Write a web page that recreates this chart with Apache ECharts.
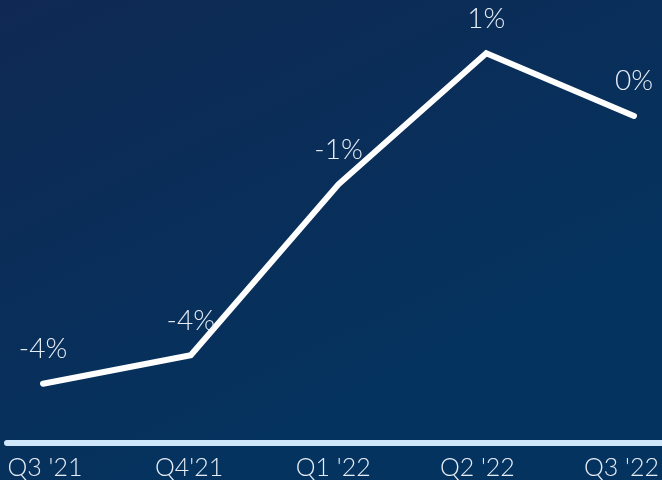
<!DOCTYPE html>
<html>
<head>
<meta charset="utf-8">
<script src="https://cdn.jsdelivr.net/npm/echarts@6/dist/echarts.min.js"></script>
<style>
  html, body { margin: 0; padding: 0; }
  #chart { width: 662px; height: 480px; }
</style>
</head>
<body>
<div id="chart"></div>
<script>
// Quarterly growth, in percent
const quarters = ["Q3 '21", "Q4'21", "Q1 '22", "Q2 '22", "Q3 '22"];
const growth = [-4.4, -3.9, -0.9, 1.4, 0.3];

const FONT = 'Lato';
const hidden = { show: false };

const chart = echarts.init(document.getElementById('chart'), null, { renderer: 'canvas' });

chart.setOption({
  backgroundColor: {
    type: 'linear', x: 0, y: 0, x2: 0.35, y2: 1,
    colorStops: [
      { offset: 0, color: '#0f2953' },
      { offset: 1, color: '#04335f' }
    ]
  },
  animation: false,
  grid: [
    { left: 43, right: 28, top: 19, bottom: 62 },   // line
    { left: 7, right: 0, top: 19, bottom: 62 },     // baseline rule
    { left: 45, right: 40, top: 19, bottom: 62 }    // quarter labels
  ],
  xAxis: [
    {
      gridIndex: 0, type: 'category', data: quarters, boundaryGap: false,
      axisLine: hidden, axisTick: hidden, axisLabel: hidden, splitLine: hidden
    },
    {
      gridIndex: 1, type: 'category', data: quarters, offset: 25,
      axisLine: { show: true, onZero: false, lineStyle: { color: '#cfe7fb', width: 6 } },
      axisTick: hidden, axisLabel: hidden, splitLine: hidden
    },
    {
      gridIndex: 2, type: 'category', data: quarters, boundaryGap: false, offset: 25,
      axisLine: hidden, axisTick: hidden, splitLine: hidden,
      axisLabel: {
        show: true, margin: 17, color: '#e6edf6',
        fontFamily: FONT, fontWeight: 300, fontSize: 25,
        interval: 0
      }
    }
  ],
  yAxis: [
    { gridIndex: 0, type: 'value', min: -5, max: 2, show: false },
    { gridIndex: 1, type: 'value', show: false },
    { gridIndex: 2, type: 'value', show: false }
  ],
  series: [
    {
      type: 'line',
      xAxisIndex: 0, yAxisIndex: 0,
      data: growth,
      showSymbol: true,
      symbol: 'circle',
      symbolSize: 1,
      itemStyle: { color: 'rgba(255,255,255,0)' },
      lineStyle: { color: '#ffffff', width: 6, cap: 'round', join: 'miter' },
      label: {
        show: true, position: 'top', distance: 20,
        color: '#e6edf6', fontFamily: FONT, fontWeight: 300, fontSize: 28,
        formatter: p => Math.round(p.value) + '%'
      }
    }
  ]
});
</script>
</body>
</html>
